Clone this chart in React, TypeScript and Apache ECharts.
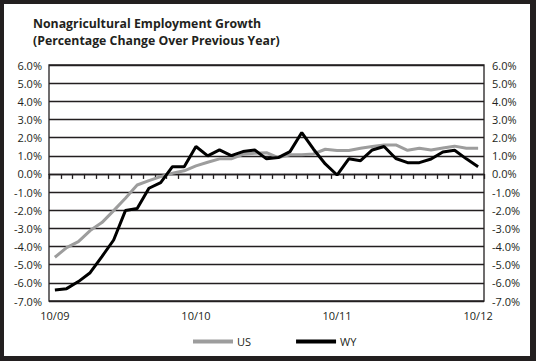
import React, { useEffect, useRef } from "react";
import * as echarts from "echarts";

const categories = [
  "10/09", "11/09", "12/09", "1/10", "2/10", "3/10", "4/10", "5/10", "6/10", "7/10", "8/10", "9/10",
  "10/10", "11/10", "12/10", "1/11", "2/11", "3/11", "4/11", "5/11", "6/11", "7/11", "8/11", "9/11",
  "10/11", "11/11", "12/11", "1/12", "2/12", "3/12", "4/12", "5/12", "6/12", "7/12", "8/12", "9/12",
  "10/12",
];
const shownLabels = ["10/09", "10/10", "10/11", "10/12"];

const usValues = [
  -4.59, -4.06, -3.73, -3.12, -2.68, -2.02, -1.34, -0.61, -0.37, -0.15, 0.04, 0.17,
  0.44, 0.64, 0.83, 0.83, 1.08, 1.14, 1.17, 0.9, 1.05, 1.05, 1.1, 1.36,
  1.29, 1.29, 1.41, 1.51, 1.6, 1.6, 1.3, 1.41, 1.32, 1.43, 1.53, 1.41,
  1.41,
];
const wyValues = [
  -6.39, -6.32, -5.93, -5.44, -4.55, -3.64, -2.02, -1.91, -0.79, -0.48, 0.4, 0.4,
  1.51, 0.99, 1.32, 1.01, 1.23, 1.32, 0.83, 0.9, 1.23, 2.28, 1.36, 0.55,
  -0.06, 0.83, 0.73, 1.32, 1.51, 0.85, 0.62, 0.62, 0.82, 1.21, 1.3, 0.83,
  0.4,
];

const seriesNames = ["US", "WY"];
const titleLines = [
  "Nonagricultural Employment Growth",
  "(Percentage Change Over Previous Year)",
];

const FONT = "'Open Sans', sans-serif";
const INK = "#231f20";

export default function App() {
  const ref = useRef<HTMLDivElement>(null);
  useEffect(() => {
    if (!ref.current) return;
    const chart = echarts.init(ref.current, undefined, { renderer: "svg" });
    const yAxisCommon = {
      type: "value" as const,
      min: -7,
      max: 6,
      interval: 1,
      axisLine: { show: false },
      axisTick: { show: false },
    };
    chart.setOption({
      animation: false,
      backgroundColor: "#ffffff",
      textStyle: { fontFamily: FONT },
      title: {
        text: titleLines.join("\n"),
        left: 28,
        top: 10,
        textStyle: {
          fontFamily: FONT,
          fontSize: 12.3,
          fontWeight: "bold",
          color: INK,
          lineHeight: 17,
        },
      },
      legend: {
        data: seriesNames,
        left: 188,
        top: 331,
        icon: "rect",
        itemWidth: 40,
        itemHeight: 4,
        itemGap: 45,
        textStyle: { fontFamily: FONT, fontSize: 11, color: INK, padding: [0, 0, 0, -1] },
      },
      grid: {
        left: 49,
        right: 52,
        top: 65,
        bottom: 60,
        show: true,
        borderColor: INK,
        borderWidth: 1.3,
        backgroundColor: "transparent",
      },
      xAxis: [
        {
          type: "category",
          data: categories,
          boundaryGap: true,
          position: "bottom",
          axisLine: { show: true, onZero: true, lineStyle: { color: INK, width: 1.3 } },
          axisTick: { show: true, interval: 0, length: 5, lineStyle: { color: INK, width: 1.3 } },
          axisLabel: { show: false },
          splitLine: { show: false },
        },
        {
          type: "category",
          data: categories,
          boundaryGap: true,
          position: "bottom",
          axisLine: { show: false, onZero: false },
          axisTick: { show: false },
          axisLabel: {
            show: true,
            interval: 0,
            margin: 9,
            fontFamily: FONT,
            fontSize: 11,
            color: INK,
            formatter: (v: string) => (shownLabels.includes(v) ? v : ""),
          },
          splitLine: { show: false },
        },
      ],
      yAxis: [
        {
          ...yAxisCommon,
          position: "left",
          axisLabel: {
            margin: 7,
            fontFamily: FONT,
            fontSize: 11,
            color: INK,
            formatter: (v: number) => v.toFixed(1) + "%",
          },
          splitLine: { show: true, lineStyle: { color: INK, width: 1.3 } },
        },
        {
          ...yAxisCommon,
          position: "right",
          axisLabel: {
            margin: 8,
            fontFamily: FONT,
            fontSize: 11,
            color: INK,
            formatter: (v: number) => v.toFixed(1) + "%",
          },
          splitLine: { show: false },
        },
      ],
      series: [
        {
          name: seriesNames[0],
          type: "line",
          data: usValues,
          xAxisIndex: 0,
          yAxisIndex: 0,
          symbol: "none",
          lineStyle: { color: "#9d9d9d", width: 3 },
          itemStyle: { color: "#9d9d9d" },
          z: 3,
        },
        {
          name: seriesNames[1],
          type: "line",
          data: wyValues,
          xAxisIndex: 0,
          yAxisIndex: 0,
          symbol: "none",
          lineStyle: { color: "#000000", width: 3 },
          itemStyle: { color: "#000000" },
          z: 4,
        },
      ],
      graphic: [
        { type: "rect", left: 0, top: 0, shape: { width: 536, height: 4 }, style: { fill: INK }, z: 100 },
        { type: "rect", left: 0, top: 356, shape: { width: 536, height: 5 }, style: { fill: INK }, z: 100 },
        { type: "rect", left: 0, top: 0, shape: { width: 4, height: 361 }, style: { fill: INK }, z: 100 },
        { type: "rect", left: 530, top: 0, shape: { width: 6, height: 361 }, style: { fill: INK }, z: 100 },
      ],
    });
    return () => chart.dispose();
  }, []);
  return (
    <div
      ref={ref}
      style={{ position: "absolute", left: 0, top: 0, width: 536, height: 361 }}
    />
  );
}
